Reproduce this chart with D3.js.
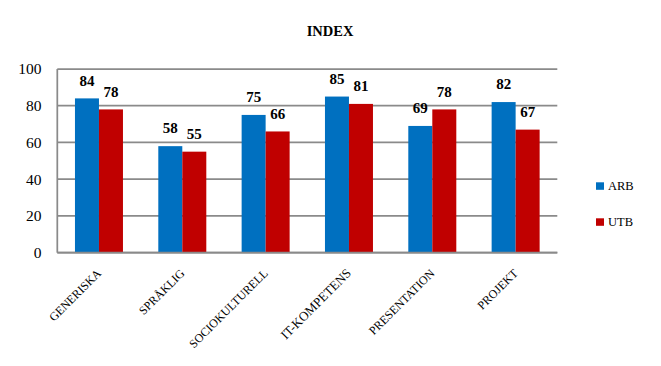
<!DOCTYPE html>
<html>
<head>
<meta charset="utf-8">
<script src="https://cdn.jsdelivr.net/npm/d3@7"></script>
<style>
  body { margin: 0; background: #fff; }
  svg { display: block; }
</style>
</head>
<body>
<div id="chart"></div>
<script>
// data
var categories = ["GENERISKA", "SPRÅKLIG", "SOCIOKULTURELL", "IT-KOMPETENS", "PRESENTATION", "PROJEKT"];
var series = ["ARB", "UTB"];
var arbValues = [84, 58, 75, 85, 69, 82];
var utbValues = [78, 55, 66, 81, 78, 67];
var yTicks = [0, 20, 40, 60, 80, 100];
var colors = ["#0070c0", "#c00000"];

var width = 661, height = 366;
var plotLeft = 57.3, plotRight = 557.3, plotTop = 69, plotBottom = 252.7;

var svg = d3.select("#chart").append("svg")
    .attr("width", width)
    .attr("height", height);

var x0 = d3.scaleBand().domain(categories).range([plotLeft, plotRight])
    .paddingInner(0.424).paddingOuter(0.212);
var x1 = d3.scaleBand().domain(series).range([0, x0.bandwidth()]).padding(0);
var y = d3.scaleLinear().domain([0, 100]).range([plotBottom, plotTop]);

var rows = categories.map(function(c, i) {
  return {cat: c, vals: [{s: "ARB", v: arbValues[i]}, {s: "UTB", v: utbValues[i]}]};
});

// title
svg.append("text")
    .attr("x", 330).attr("y", 36)
    .attr("text-anchor", "middle")
    .style("font-family", "Liberation Serif")
    .style("font-weight", "bold")
    .style("font-size", "14.5px")
    .text("INDEX");

// gridlines
svg.selectAll("line.grid")
    .data(yTicks)
  .enter().append("line")
    .attr("class", "grid")
    .attr("x1", plotLeft).attr("x2", plotRight)
    .attr("y1", function(d) { return y(d); })
    .attr("y2", function(d) { return y(d); })
    .attr("stroke", "#8a8a8a")
    .attr("stroke-width", 1.75);

// y axis line
svg.append("line")
    .attr("x1", plotLeft).attr("x2", plotLeft)
    .attr("y1", y(100)).attr("y2", y(0))
    .attr("stroke", "#8a8a8a")
    .attr("stroke-width", 1.75);

// y tick labels
svg.selectAll("text.ytick")
    .data(yTicks)
  .enter().append("text")
    .attr("class", "ytick")
    .attr("x", 41.5)
    .attr("y", function(d) { return y(d); })
    .attr("dy", "0.35em")
    .attr("text-anchor", "end")
    .style("font-family", "Liberation Serif")
    .style("font-size", "15.5px")
    .text(function(d) { return d; });

// bars
var groups = svg.selectAll("g.cat")
    .data(rows)
  .enter().append("g")
    .attr("class", "cat")
    .attr("transform", function(d) { return "translate(" + x0(d.cat) + ",0)"; });

groups.selectAll("rect")
    .data(function(d) { return d.vals; })
  .enter().append("rect")
    .attr("x", function(d) { return x1(d.s); })
    .attr("y", function(d) { return y(d.v); })
    .attr("width", x1.bandwidth())
    .attr("height", function(d) { return y(0) - y(d.v); })
    .attr("fill", function(d, i) { return colors[i]; });

groups.selectAll("text.val")
    .data(function(d) { return d.vals; })
  .enter().append("text")
    .attr("class", "val")
    .attr("x", function(d) { return x1(d.s) + x1.bandwidth() / 2; })
    .attr("y", function(d) { return y(d.v) - 12.8; })
    .attr("text-anchor", "middle")
    .style("font-family", "Liberation Serif")
    .style("font-weight", "bold")
    .style("font-size", "15px")
    .text(function(d) { return d.v; });

// redraw bottom axis line on top of bars
svg.append("line")
    .attr("x1", plotLeft).attr("x2", plotRight)
    .attr("y1", y(0)).attr("y2", y(0))
    .attr("stroke", "#8a8a8a")
    .attr("stroke-width", 1.75);

// category labels, rotated
svg.selectAll("text.catlabel")
    .data(categories)
  .enter().append("text")
    .attr("class", "catlabel")
    .attr("text-anchor", "end")
    .attr("transform", function(d) {
      var cx = x0(d) + x0.bandwidth() / 2 + 3;
      return "translate(" + cx + ",274) rotate(-45)";
    })
    .style("font-family", "Liberation Serif")
    .style("font-size", function(d) { return d == "IT-KOMPETENS" ? "13px" : "12px"; })
    .text(function(d) { return d; });

// legend
var legend = svg.selectAll("g.legend")
    .data(series)
  .enter().append("g")
    .attr("class", "legend")
    .attr("transform", function(d, i) { return "translate(596," + (182.3 + i * 36) + ")"; });

legend.append("rect")
    .attr("width", 8).attr("height", 7.5)
    .attr("fill", function(d, i) { return colors[i]; });

legend.append("text")
    .attr("x", 12).attr("y", 7.3)
    .style("font-family", "Liberation Serif")
    .style("font-size", "12.5px")
    .text(function(d) { return d; });
</script>
</body>
</html>
